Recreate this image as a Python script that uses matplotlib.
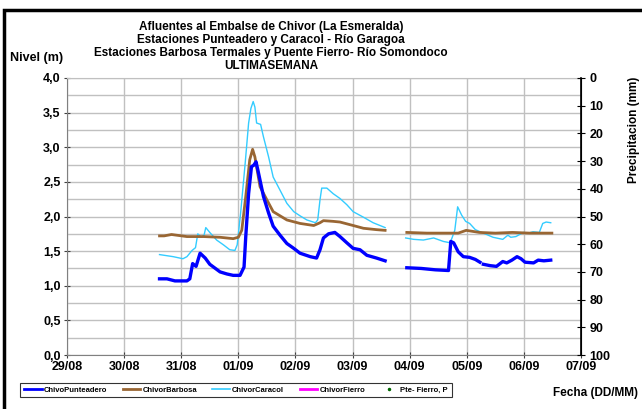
import numpy as np
import matplotlib
matplotlib.use("Agg")
import matplotlib.pyplot as plt
from matplotlib.patches import Rectangle
from matplotlib.lines import Line2D
from matplotlib.ticker import FuncFormatter, MultipleLocator

plt.rcParams['font.family'] = ['Liberation Sans', 'DejaVu Sans']
plt.rcParams['font.weight'] = 'bold'

nan = np.nan

# days after 29/08 00:00
dates = ["29/08", "30/08", "31/08", "01/09", "02/09", "03/09", "04/09", "05/09", "06/09", "07/09"]

punt_t = [1.62, 1.75, 1.89, 2.10, 2.15, 2.20, 2.26, 2.33, 2.42, 2.50, 2.68, 2.80, 2.91, 3.03, 3.10, 3.13,
          3.18, 3.23, 3.27, 3.31, 3.35, 3.44, 3.53, 3.61, 3.73, 3.85, 3.97, 4.08, 4.26, 4.37, 4.43, 4.49,
          4.58, 4.69, 4.78, 4.90, 5.01, 5.13, 5.25, 5.42, 5.57, 5.75,
          5.95, 6.20, 6.45, 6.68, 6.72, 6.77, 6.85, 6.94, 7.05, 7.15, 7.23, 7.26,
          7.29, 7.41, 7.52, 7.63, 7.70, 7.79, 7.88, 7.95, 8.02, 8.17, 8.25, 8.35, 8.47]
punt_v = [1.10, 1.10, 1.07, 1.07, 1.10, 1.32, 1.28, 1.47, 1.40, 1.31, 1.20, 1.17, 1.15, 1.15, 1.27, 1.71,
          2.33, 2.72, 2.74, 2.79, 2.64, 2.29, 2.05, 1.86, 1.73, 1.61, 1.54, 1.47, 1.42, 1.40, 1.52, 1.69,
          1.75, 1.77, 1.71, 1.62, 1.54, 1.52, 1.44, 1.40, 1.36, nan,
          1.26, 1.25, 1.23, 1.22, 1.64, 1.62, 1.49, 1.42, 1.41, 1.38, 1.34, nan,
          1.31, 1.29, 1.28, 1.35, 1.33, 1.37, 1.42, 1.39, 1.34, 1.33, 1.37, 1.36, 1.37]

barb_t = [1.62, 1.70, 1.83, 2.10, 2.40, 2.68, 2.91, 3.00, 3.06, 3.13, 3.20, 3.25, 3.29, 3.38, 3.50, 3.61,
          3.73, 3.85, 4.08, 4.32, 4.43, 4.49, 4.66, 4.78, 5.01, 5.19, 5.42, 5.57, 5.75,
          5.95, 6.30, 6.65, 6.85, 6.99, 7.22, 7.50, 7.80, 8.10, 8.49]
barb_v = [1.72, 1.72, 1.74, 1.71, 1.71, 1.70, 1.68, 1.70, 1.80, 2.29, 2.82, 2.97, 2.86, 2.43, 2.24, 2.07,
          2.01, 1.95, 1.90, 1.87, 1.91, 1.94, 1.93, 1.92, 1.87, 1.83, 1.81, 1.80, nan,
          1.77, 1.76, 1.76, 1.76, 1.80, 1.77, 1.76, 1.77, 1.76, 1.76]

cara_t = [1.62, 1.86, 2.03, 2.10, 2.19, 2.25, 2.29, 2.35, 2.40, 2.43, 2.50, 2.62, 2.74, 2.85, 2.94, 2.98,
          3.04, 3.12, 3.18, 3.22, 3.26, 3.29, 3.32, 3.39, 3.44, 3.53, 3.61, 3.73, 3.85, 3.97, 4.08, 4.20,
          4.35, 4.39, 4.43, 4.46, 4.55, 4.66, 4.78, 4.90, 5.01, 5.19, 5.36, 5.48, 5.57, 5.75,
          5.93, 6.07, 6.24, 6.42, 6.59, 6.71, 6.79, 6.84, 6.91, 6.98, 7.05, 7.15, 7.29, 7.46, 7.63, 7.72,
          7.77, 7.86, 7.99, 8.08, 8.16, 8.27, 8.33, 8.39, 8.47]
cara_v = [1.45, 1.42, 1.39, 1.42, 1.51, 1.55, 1.75, 1.70, 1.73, 1.84, 1.77, 1.66, 1.59, 1.52, 1.51, 1.59,
          2.05, 2.77, 3.35, 3.56, 3.66, 3.58, 3.35, 3.33, 3.15, 2.86, 2.57, 2.38, 2.19, 2.07, 2.01, 1.95,
          1.91, 1.95, 2.24, 2.41, 2.41, 2.33, 2.26, 2.17, 2.07, 1.99, 1.91, 1.87, 1.84, nan,
          1.69, 1.67, 1.66, 1.69, 1.64, 1.62, 1.80, 2.14, 2.02, 1.93, 1.90, 1.81, 1.76, 1.70, 1.67, 1.73,
          1.70, 1.71, 1.77, 1.76, 1.78, 1.77, 1.90, 1.92, 1.91]

fierro_t = []
fierro_v = []
precip_t = []
precip_v = []

fig = plt.figure(figsize=(6.42, 4.09), dpi=100)
ax = fig.add_axes([67 / 642, 1 - 355 / 409, (581 - 67) / 642, (355 - 78) / 409])

ax.plot(cara_t, cara_v, color='#33ccff', lw=1.0, zorder=3)
ax.plot(barb_t, barb_v, color='#996633', lw=2.0, zorder=4)
ax.plot(punt_t, punt_v, color='#0000ff', lw=2.4, zorder=5)
ax.plot(fierro_t, fierro_v, color='#ff00ff', lw=2.0)

ax.set_xlim(0, 9)
ax.set_ylim(0, 4)
ax.set_xticks(range(len(dates)))
ax.set_xticklabels(dates)
ax.yaxis.set_major_locator(MultipleLocator(0.5))
ax.yaxis.set_minor_locator(MultipleLocator(0.25))
ax.yaxis.set_major_formatter(FuncFormatter(lambda v, p: f"{v:.1f}".replace('.', ',')))
ax.grid(True, which='both', axis='y', color='#c0c0c0', lw=1.0)
ax.grid(True, which='major', axis='x', color='#c0c0c0', lw=1.0)
ax.set_axisbelow(True)
ax.tick_params(axis='y', which='minor', length=0)
ax.tick_params(axis='both', which='major', direction='inout', length=5, labelsize=9, color='#404040', pad=2)
for s in ['left', 'bottom']:
    ax.spines[s].set_color('#808080')
ax.spines['top'].set_color('#c0c0c0')
for lbl in ax.get_xticklabels() + ax.get_yticklabels():
    lbl.set_fontweight('bold')

ax2 = ax.twinx()
ax2.plot(precip_t, precip_v, 'o', color='#006600', ms=2)
ax2.set_ylim(100, 0)
ax2.yaxis.set_major_locator(MultipleLocator(10))
ax2.tick_params(axis='y', direction='inout', length=6, labelsize=9, pad=3)
ax2.spines['right'].set_color('black')
ax2.spines['right'].set_linewidth(1.2)
for s in ['left', 'bottom', 'top']:
    ax2.spines[s].set_visible(False)
for lbl in ax2.get_yticklabels():
    lbl.set_fontweight('bold')
ax2.set_ylabel("Precipitacion (mm)", fontsize=8.5, fontweight='bold')
ax2.yaxis.set_label_coords(1 + (628 - 581) / 514, (355 - 130) / 277)

fig.text(271 / 642, 1 - 21 / 409,
         "Afluentes al Embalse de Chivor (La Esmeralda)\n"
         "Estaciones Punteadero y Caracol - Río Garagoa\n"
         "Estaciones Barbosa Termales y Puente Fierro- Río Somondoco\n"
         "ULTIMASEMANA",
         ha='center', va='top', fontsize=8.5, fontweight='bold', linespacing=1.12)
fig.text(10 / 642, 1 - 58 / 409, "Nivel (m)", ha='left', va='center', fontsize=9, fontweight='bold')
fig.text(638 / 642, 1 - 393 / 409, "Fecha (DD/MM)", ha='right', va='center', fontsize=8.5, fontweight='bold')

handles = [Line2D([], [], color='#0000ff', lw=2),
           Line2D([], [], color='#996633', lw=2),
           Line2D([], [], color='#33ccff', lw=1.2),
           Line2D([], [], color='#ff00ff', lw=2),
           Line2D([], [], color='#006600', marker='o', ms=1.5, lw=0)]
labels = ["ChivoPunteadero", "ChivorBarbosa", "ChivorCaracol", "ChivorFierro", "Pte- Fierro, P"]
leg = fig.legend(handles, labels, loc='center', bbox_to_anchor=(236 / 642, 1 - 390 / 409), ncol=5,
                 prop={'size': 5.5, 'weight': 'bold'}, frameon=True, fancybox=False, edgecolor='black',
                 handlelength=2.3, columnspacing=2.0, handletextpad=0.3, borderpad=0.5,
                 borderaxespad=0)
leg.get_frame().set_linewidth(0.8)

fig.patches.append(Rectangle((4 / 642, -0.2), 2, 1.2 - 10 / 409, transform=fig.transFigure,
                             fill=False, edgecolor='black', lw=2.5, clip_on=False))

fig.savefig("out.png", dpi=100)
